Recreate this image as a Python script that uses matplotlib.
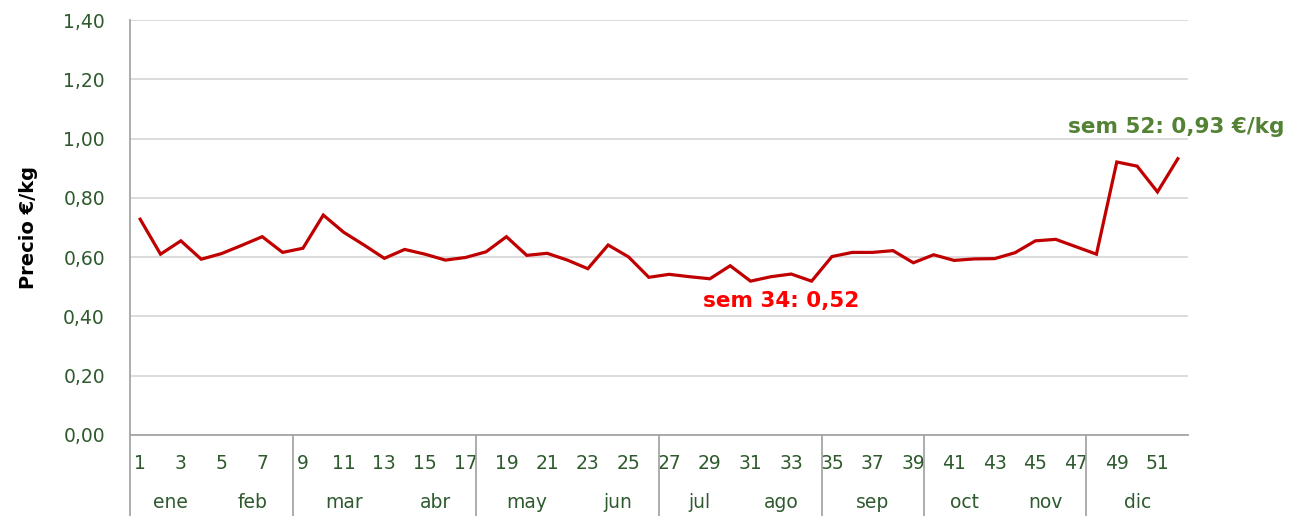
import numpy as np
import matplotlib
matplotlib.use("Agg")
import matplotlib.pyplot as plt
import matplotlib.transforms as mtransforms

# weekly price, €/kg
weeks = np.arange(1, 53)
price = [0.728, 0.610, 0.655, 0.593, 0.612, 0.640, 0.669, 0.616, 0.630, 0.742,
         0.684, 0.641, 0.596, 0.626, 0.610, 0.590, 0.599, 0.618, 0.669, 0.606,
         0.613, 0.590, 0.561, 0.641, 0.601, 0.532, 0.542, 0.534, 0.527, 0.571,
         0.519, 0.534, 0.543, 0.519, 0.602, 0.616, 0.616, 0.622, 0.581, 0.608,
         0.589, 0.594, 0.595, 0.615, 0.655, 0.660, 0.635, 0.610, 0.921, 0.907,
         0.820, 0.932]

months = ["ene", "feb", "mar", "abr", "may", "jun", "jul", "ago", "sep", "oct", "nov", "dic"]
month_first = [1, 5, 9, 14, 18, 23, 27, 31, 35, 40, 44, 48]
month_last = [4, 8, 13, 17, 22, 26, 30, 34, 39, 43, 47, 52]
group_last = [8, 17, 26, 34, 39, 47]   # separators after these weeks

yticks = [0.0, 0.2, 0.4, 0.6, 0.8, 1.0, 1.2, 1.4]

min_week, min_label = 34, "sem 34: 0,52"
last_week, last_label = 52, "sem 52: 0,93 €/kg"

tick_col = "#2E5A2E"
grid_col = "#D9D9D9"
axis_col = "#A6A6A6"

plt.rcParams['font.family'] = ['DejaVu Sans']

fig = plt.figure(figsize=(12.95, 5.16), dpi=100)
ax = fig.add_axes([130 / 1295, 81 / 516, 1058 / 1295, 415 / 516])

ax.plot(weeks, price, color="#C00000", lw=2.3, solid_joinstyle="miter", zorder=3)

ax.set_xlim(0.5, 52.5)
ax.set_ylim(0, 1.4)
ax.set_yticks(yticks)
ax.set_yticklabels([f"{v:.2f}".replace(".", ",") for v in yticks])
ax.yaxis.grid(True, color=grid_col, lw=1.3)
ax.set_axisbelow(True)

odd = weeks[::2]
ax.set_xticks(odd)
ax.set_xticklabels([str(w) for w in odd])
ax.tick_params(axis="x", length=0, pad=14, labelsize=13.5, colors=tick_col)
ax.tick_params(axis="y", length=0, pad=18, labelsize=13.5, colors=tick_col)

for s in ["top", "right"]:
    ax.spines[s].set_visible(False)
ax.spines["left"].set_color(axis_col)
ax.spines["bottom"].set_color(axis_col)
ax.spines["left"].set_linewidth(1.3)
ax.spines["bottom"].set_linewidth(1.3)

trans = mtransforms.blended_transform_factory(ax.transData, ax.transAxes)
ybot = -81 / 415
for g in group_last:
    ax.plot([g + 0.5, g + 0.5], [0, ybot], transform=trans, color=axis_col,
            lw=1.3, clip_on=False)
ax.plot([0.5, 0.5], [0, ybot], transform=trans, color=axis_col, lw=1.3, clip_on=False)

for m, a, b in zip(months, month_first, month_last):
    ax.text((a + b) / 2, -67 / 415, m, transform=trans, ha="center", va="center",
            fontsize=13.5, color=tick_col)

ax.set_ylabel("Precio €/kg", fontsize=14, fontweight="bold", labelpad=18)

ax.annotate(min_label, (min_week, price[min_week - 1]), xytext=(-22, -14),
            textcoords="offset points", ha="center", va="center",
            fontsize=15.5, fontweight="bold", color="#FF0000")
ax.annotate(last_label, (last_week, price[last_week - 1]), xytext=(-1, 23),
            textcoords="offset points", ha="center", va="center",
            fontsize=15.5, fontweight="bold", color="#548235", annotation_clip=False)

fig.savefig("out.png", dpi=100)
